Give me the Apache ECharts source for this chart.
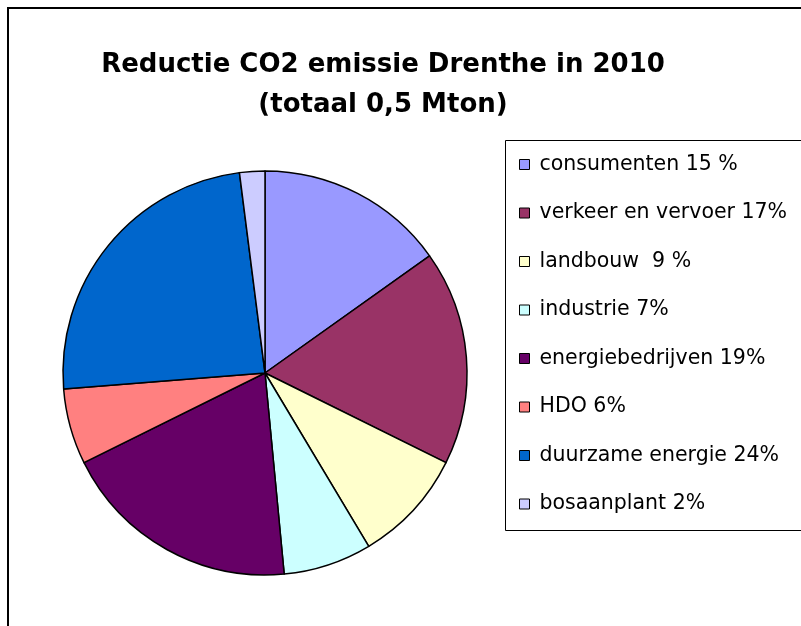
<!DOCTYPE html>
<html>
<head>
<meta charset="utf-8">
<style>
html,body{margin:0;padding:0;background:#fff;}
#chart{width:801px;height:626px;}
</style>
<script src="https://cdn.jsdelivr.net/npm/echarts@6/dist/echarts.min.js"></script>
</head>
<body>
<div id="chart"></div>
<script>
const titleLines = ['Reductie CO2 emissie Drenthe in 2010', '(totaal 0,5 Mton)'];
const categories = ['consumenten 15 %', 'verkeer en vervoer 17%', 'landbouw  9 %', 'industrie 7%', 'energiebedrijven 19%', 'HDO 6%', 'duurzame energie 24%', 'bosaanplant 2%'];
const values = [15, 17, 9, 7, 19, 6, 24, 2];
const colors = ['#9999FF', '#993366', '#FFFFCC', '#CCFFFF', '#660066', '#FF8080', '#0066CC', '#CCCCFF'];

const chart = echarts.init(document.getElementById('chart'), null, {renderer: 'canvas'});
const font = '"DejaVu Sans", "Liberation Sans", Arial, sans-serif';
chart.setOption({
  animation: false,
  backgroundColor: '#fff',
  color: colors,
  title: {
    text: titleLines.join('\n'),
    left: 378,
    textAlign: 'center',
    top: 40,
    textStyle: {fontFamily: font, fontSize: 26, fontWeight: 'bold', color: '#000', lineHeight: 40}
  },
  graphic: [
    {type: 'rect', shape: {x: 8, y: 8, width: 900, height: 700}, style: {fill: 'none', stroke: '#000', lineWidth: 2}, z: 0},
    {type: 'rect', shape: {x: 505.5, y: 140.5, width: 400, height: 390}, style: {fill: '#fff', stroke: '#000', lineWidth: 1}, z: 1}
  ],
  legend: {
    orient: 'vertical',
    left: 514,
    top: 149,
    icon: 'rect',
    itemWidth: 10,
    itemHeight: 10,
    itemGap: 27.5,
    selectedMode: false,
    itemStyle: {borderColor: '#000', borderWidth: 1},
    textStyle: {fontFamily: font, fontSize: 20.5, color: '#000', lineHeight: 20, padding: [0, 0, 0, 5]},
    data: categories,
    z: 5
  },
  series: [{
    type: 'pie',
    center: [265, 373],
    radius: 202,
    startAngle: 90,
    clockwise: true,
    label: {show: false},
    labelLine: {show: false},
    emphasis: {disabled: true},
    itemStyle: {borderColor: '#000', borderWidth: 1.5},
    data: categories.map((c, i) => ({name: c, value: values[i]}))
  }]
});
</script>
</body>
</html>
